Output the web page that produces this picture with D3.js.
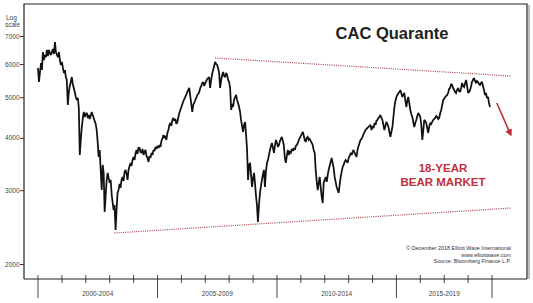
<!DOCTYPE html>
<html>
<head>
<meta charset="utf-8">
<script src="https://cdn.jsdelivr.net/npm/d3@7"></script>
<style>
    body { margin: 0; background: #fff; }
    svg { display: block; font-family: "Liberation Sans", Arial, sans-serif; }
</style>
</head>
<body>
<div id="chart"></div>
<script>
// CAC 40, semi-monthly closes (1st and 16th of each month) from Jan 2000
const closes = [
    5871, 5437, 5744, 6035, 5807, 6411, 6135, 6306, 6237, 6482, 6272, 6482, 6376, 6306, 6411, 6517, 6341, 6773, 6411, 6306,
    6237, 6411, 6135, 5969, 6068, 5871, 5712, 5807, 5588, 5497, 4792, 5146, 5319, 5437, 5588, 5378, 5261, 5146, 5007, 4925,
    4980, 4713, 3641, 3954, 4246, 4462, 4611, 4486, 4561, 4586, 4462, 4536, 4437, 4511, 4611, 4536, 4462, 4389, 4317, 4177,
    3911, 3602, 3743, 3354, 3003, 3447, 3299, 2661, 2922, 3175, 3299, 3210, 3123, 3175, 2922, 2796, 2691, 2766, 2411, 2691,
    2954, 3003, 3106, 3038, 3175, 3227, 3157, 3317, 3354, 3281, 3175, 3354, 3428, 3485, 3428, 3543, 3602, 3543, 3682, 3743,
    3661, 3784, 3784, 3702, 3682, 3763, 3641, 3702, 3743, 3621, 3582, 3504, 3621, 3582, 3682, 3641, 3743, 3722, 3805, 3763,
    3826, 3784, 3847, 3805, 3932, 3976, 4064, 3998, 4042, 3954, 4109, 4177, 4293, 4341, 4270, 4413, 4462, 4389, 4437, 4317,
    4365, 4486, 4586, 4662, 4739, 4818, 4898, 4952, 5007, 5062, 5146, 5203, 5261, 5035, 4818, 4611, 4792, 4845, 4925, 4980,
    5062, 5090, 5146, 5261, 5319, 5407, 5437, 5319, 5407, 5467, 5527, 5558, 5588, 5261, 5497, 5681, 5807, 5936, 6068, 6002,
    5969, 5871, 5712, 5261, 5497, 5650, 5744, 5619, 5588, 5712, 5650, 5497, 5437, 5261, 4662, 4818, 4739, 4925, 5007, 5062,
    4925, 4845, 4739, 4611, 4413, 4270, 4131, 4293, 4365, 4064, 3743, 3175, 3447, 3485, 3263, 3055, 3210, 3299, 3089, 2890,
    2766, 2519, 2766, 2954, 3072, 3175, 3281, 3354, 3055, 3317, 3485, 3543, 3641, 3743, 3826, 3889, 3784, 3682, 3826, 3954,
    3889, 3805, 3847, 3932, 3976, 4020, 3932, 3847, 3582, 3485, 3621, 3743, 3641, 3702, 3682, 3763, 3722, 3784, 3743, 3826,
    3847, 3889, 3954, 3998, 4042, 4086, 4131, 4042, 3954, 3911, 3998, 4020, 3954, 3976, 3932, 3889, 3847, 3743, 3682, 3354,
    3140, 3003, 3123, 3227, 3038, 2890, 2796, 3123, 3175, 3227, 3140, 3263, 3354, 3428, 3504, 3582, 3485, 3391, 3227, 3140,
    3055, 3003, 2954, 3089, 3227, 3317, 3409, 3447, 3504, 3543, 3523, 3485, 3582, 3621, 3682, 3641, 3702, 3743, 3682, 3641,
    3602, 3743, 3826, 3889, 3954, 3976, 4020, 4086, 4131, 4177, 4200, 4223, 4246, 4270, 4293, 4177, 4246, 4223, 4341, 4293,
    4389, 4413, 4462, 4486, 4536, 4462, 4413, 4293, 4177, 4270, 4365, 4317, 4246, 4131, 4020, 4131, 4246, 4486, 4739, 4898,
    5007, 5062, 5118, 5146, 5203, 5118, 5007, 5062, 5118, 4925, 4739, 4898, 5007, 4845, 4662, 4561, 4486, 4365, 4246, 4341,
    4413, 4511, 4586, 4536, 4486, 4293, 3954, 4177, 4413, 4389, 4341, 4223, 4109, 4246, 4341, 4317, 4365, 4413, 4437, 4462,
    4511, 4486, 4437, 4462, 4586, 4662, 4792, 4925, 4952, 5007, 5035, 5062, 5118, 5232, 5261, 5378, 5348, 5261, 5203, 5146,
    5118, 5203, 5261, 5175, 5146, 5261, 5407, 5319, 5290, 5407, 5497, 5319, 5118, 5146, 5203, 5319, 5437, 5497, 5558, 5467,
    5407, 5467, 5437, 5378, 5348, 5407, 5437, 5319, 5203, 5062, 5118, 4980, 5007, 4845, 4739
];
const dates = closes.map((_, i) => new Date(2000 + Math.floor(i / 24), Math.floor(i / 2) % 12, i % 2 ? 16 : 1));

const yTicks = [2000, 3000, 4000, 5000, 6000, 7000];
const yearTicks = d3.range(2000, 2020);
const periodTicks = [2000, 2005, 2010, 2015, 2019];
const periodLabels = ["2000-2004", "2005-2009", "2010-2014", "2015-2019"];

// trend lines and the arrow, in date / index value
const upperTrend = [{date: "2007-06-01", value: 6203}, {date: "2019-10-15", value: 5619}];
const lowerTrend = [{date: "2003-03-12", value: 2371}, {date: "2019-10-15", value: 2720}];
const arrowPath = [{date: "2019-03-15", value: 4845}, {date: "2019-09-20", value: 4150}];

const sourceLines = ["\u00a9 December 2018 Elliott Wave International", "www.elliottwave.com", "Source: Bloomberg Finance L.P."];

const SVG_WIDTH = 533, SVG_HEIGHT = 303;
const FRAME = {left: 24, right: 527, top: 4, bottom: 279};
const RED = "#c0303a";

const svg = d3.select("#chart").append("svg")
    .attr("width", SVG_WIDTH)
    .attr("height", SVG_HEIGHT);

const x = d3.scaleTime()
    .domain([new Date(2000, 0, 1), new Date(2019, 0, 1)])
    .range([38, 492]);
const y = d3.scaleLog()
    .domain([2000, 7000])
    .range([264, 36]);

const parse = d3.timeParse("%Y-%m-%d");

//frame with a soft shadow on the right side
svg.append("line")
    .attr("x1", FRAME.right + 2).attr("x2", FRAME.right + 2)
    .attr("y1", FRAME.top + 1).attr("y2", FRAME.bottom)
    .attr("stroke", "#aaa").attr("stroke-width", 1.5);
svg.append("path")
    .attr("d", `M${FRAME.left},${FRAME.bottom}V${FRAME.top}H${FRAME.right}V${FRAME.bottom}`)
    .attr("fill", "none").attr("stroke", "#222").attr("stroke-width", 1.2);

// y axis (log)
const yAxis = svg.append("g")
    .attr("transform", `translate(${FRAME.left},0)`)
    .call(d3.axisLeft(y).tickValues(yTicks).tickSize(4).tickPadding(0.5).tickFormat(d3.format("d")));
yAxis.select(".domain").remove();
yAxis.selectAll("line").attr("stroke", "#333");
yAxis.selectAll("text").attr("font-size", 6.5).attr("fill", "#444").attr("font-family", null);

svg.append("text").attr("x", 6).attr("y", 20).text("Log")
    .attr("font-size", 6.5).attr("fill", "#444");
svg.append("text").attr("x", 5).attr("y", 26.5).text("scale")
    .attr("font-size", 6.5).attr("fill", "#444");

// x axis: year ticks crossing the baseline, long ticks at each 5-year period
svg.append("line")
    .attr("x1", FRAME.left).attr("x2", FRAME.right)
    .attr("y1", FRAME.bottom).attr("y2", FRAME.bottom)
    .attr("stroke", "#222").attr("stroke-width", 1.2);

svg.append("g").selectAll("line")
    .data(yearTicks)
    .join("line")
    .attr("x1", d => x(new Date(d, 0, 1))).attr("x2", d => x(new Date(d, 0, 1)))
    .attr("y1", FRAME.bottom - 4)
    .attr("y2", d => periodTicks.includes(d) ? FRAME.bottom + 19 : FRAME.bottom + 4)
    .attr("stroke", "#333").attr("stroke-width", 0.9);

svg.append("g").selectAll("text")
    .data(periodLabels)
    .join("text")
    .attr("x", (d, i) => (x(new Date(periodTicks[i], 0, 1)) + x(new Date(periodTicks[i + 1], 0, 1))) / 2)
    .attr("y", 296)
    .attr("text-anchor", "middle")
    .attr("font-size", 6.5)
    .attr("fill", "#444")
    .text(d => d);

// trend lines
const trendLine = d3.line().x(d => x(parse(d.date))).y(d => y(d.value));
[upperTrend, lowerTrend].forEach(trend => {
    svg.append("path")
        .attr("d", trendLine(trend))
        .attr("fill", "none")
        .attr("stroke", "#b0404a")
        .attr("stroke-width", 1.2)
        .attr("stroke-dasharray", "1,1.2");
});

// index line
const line = d3.line()
    .x((d, i) => x(dates[i]))
    .y(d => y(d));
svg.append("path")
    .datum(closes)
    .attr("d", line)
    .attr("fill", "none")
    .attr("stroke", "#111")
    .attr("stroke-width", 1.75)
    .attr("stroke-linejoin", "miter")
    .attr("stroke-miterlimit", 2);

// red arrow
svg.append("defs").append("marker")
    .attr("id", "arrowHead")
    .attr("viewBox", "0 0 10 10")
    .attr("refX", 2).attr("refY", 5)
    .attr("markerWidth", 4.5).attr("markerHeight", 4.5)
    .attr("orient", "auto")
    .append("path").attr("d", "M0,0L10,5L0,10Z").attr("fill", RED);
svg.append("path")
    .attr("d", trendLine(arrowPath))
    .attr("stroke", RED)
    .attr("stroke-width", 1.6)
    .attr("marker-end", "url(#arrowHead)");

// title and notes
svg.append("text")
    .attr("x", 392).attr("y", 39)
    .attr("text-anchor", "middle")
    .attr("font-size", 16.5).attr("font-weight", "bold").attr("fill", "#222")
    .text("CAC Quarante");

svg.append("g").selectAll("text")
    .data(["18-YEAR", "BEAR MARKET"])
    .join("text")
    .attr("x", 443).attr("y", (d, i) => 172 + i * 13.5)
    .attr("text-anchor", "middle")
    .attr("font-size", 11.5).attr("font-weight", "bold").attr("fill", RED)
    .text(d => d);

svg.append("g").selectAll("text")
    .data(sourceLines)
    .join("text")
    .attr("x", 511).attr("y", (d, i) => 250 + i * 6.5)
    .attr("text-anchor", "end")
    .attr("font-size", 5.4).attr("fill", "#333")
    .text(d => d);
</script>
</body>
</html>
